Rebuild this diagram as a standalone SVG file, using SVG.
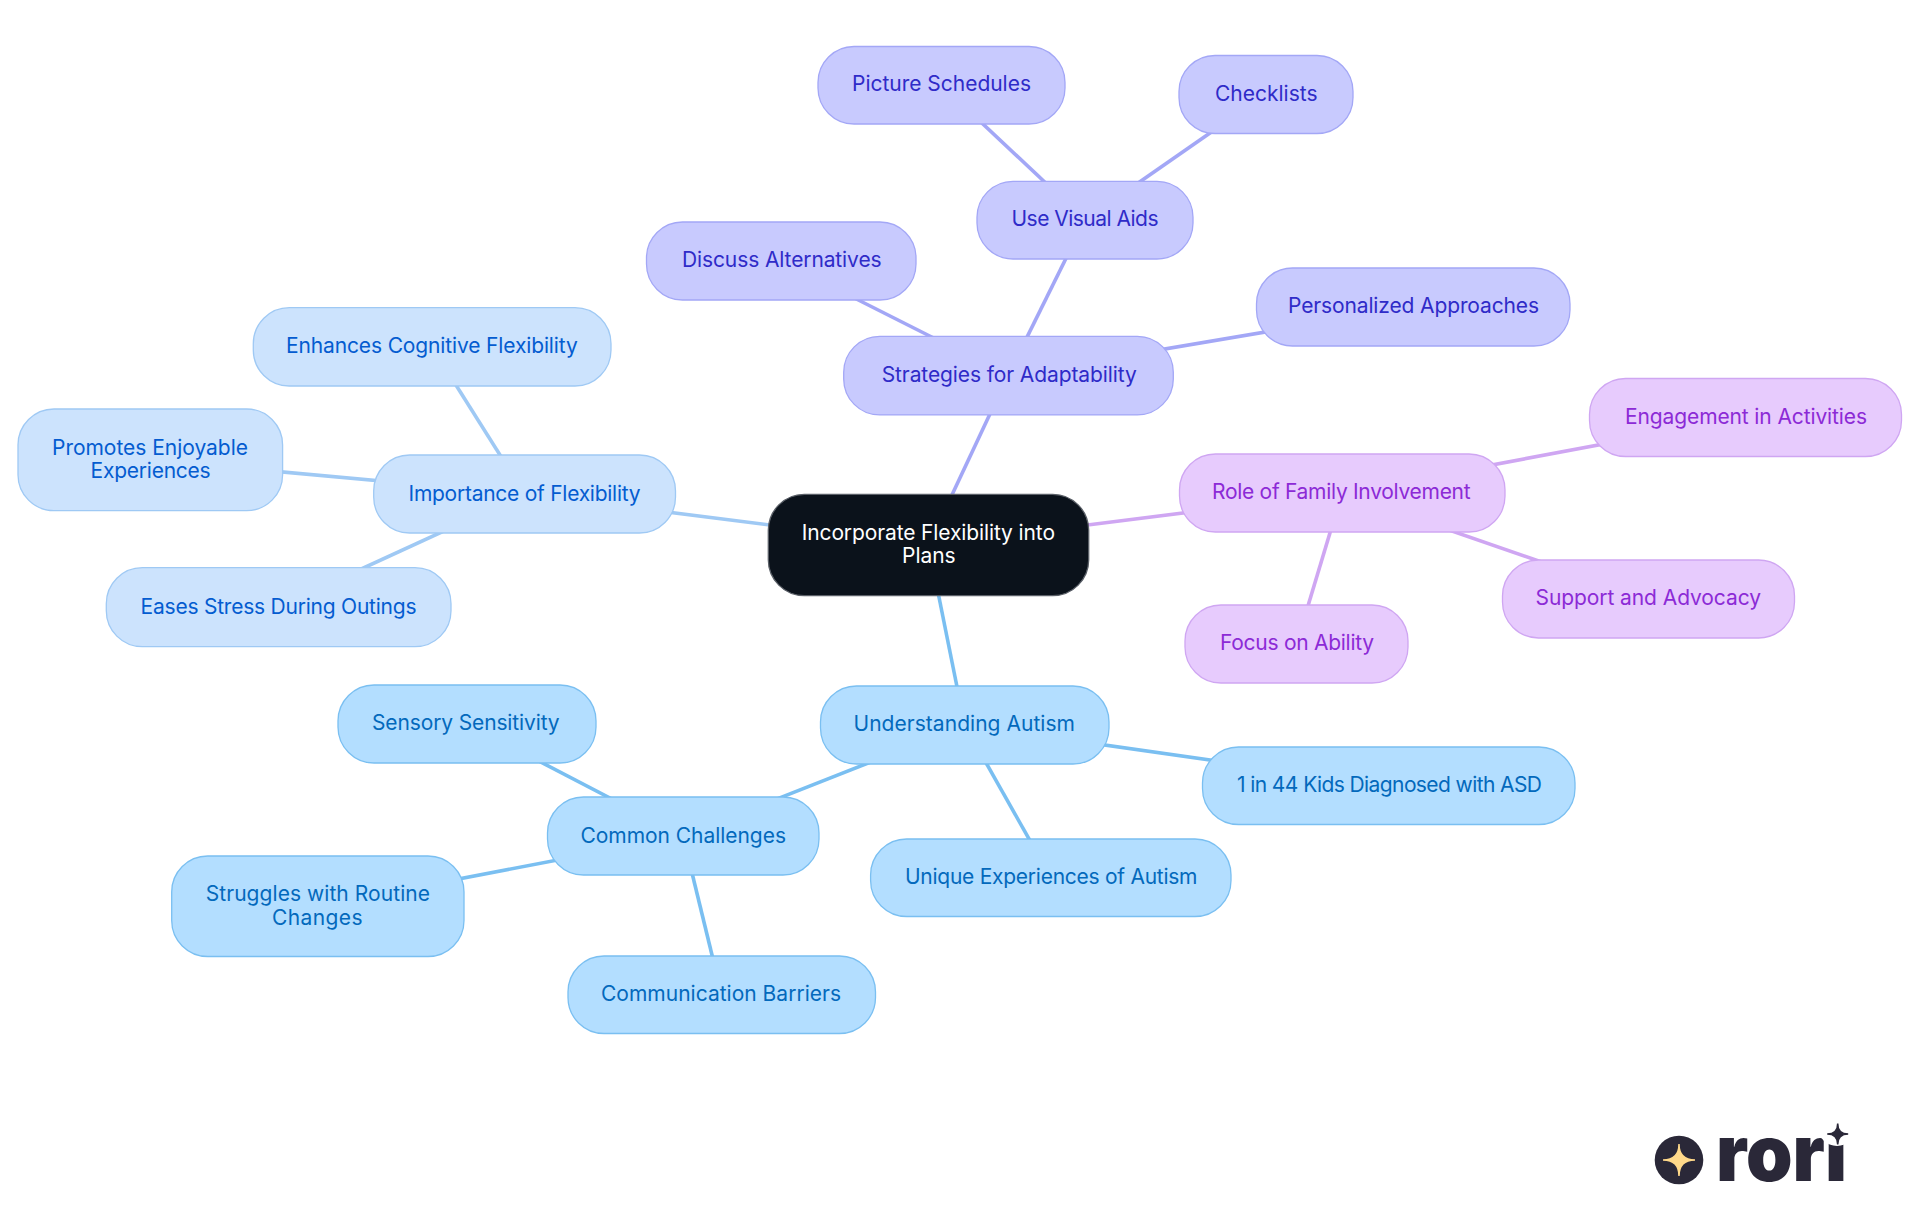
<svg xmlns="http://www.w3.org/2000/svg" width="1920" height="1215" viewBox="0 0 1920 1215">
<style>
text{font-family:"Inter","Noto Sans",sans-serif;font-size:21px;font-weight:375;}
rect{rx:36px;ry:36px;stroke-width:1.3;}
#connectors line{stroke-width:3.6;fill:none;}
.root rect{fill:#0B121B;stroke:#5B6068;}.root text{fill:#FFFFFF;}
.indigo rect{fill:#C8CAFE;stroke:#A3A7F6;}.indigo text{fill:#2F2BC8;}
.violet rect{fill:#E7CBFD;stroke:#CFA6F2;}.violet text{fill:#8C2AD6;}
.blue rect{fill:#CCE3FD;stroke:#9FC9F4;}.blue text{fill:#045CD0;}
.sky rect{fill:#B3DEFF;stroke:#7ABFF1;}.sky text{fill:#0369BC;}
.e-indigo{stroke:#A3A7F6;}.e-violet{stroke:#CFA6F2;}.e-blue{stroke:#9FC9F4;}.e-sky{stroke:#7ABFF1;}
</style>
<rect width="1920" height="1215" style="fill:#FFFFFF;stroke:none;rx:0;ry:0"/>
<g id="connectors">
<line class="e-indigo" x1="928.5" y1="545" x2="1008" y2="375.5"/>
<line class="e-violet" x1="928.5" y1="545" x2="1342" y2="493"/>
<line class="e-blue" x1="928.5" y1="545" x2="524.5" y2="494"/>
<line class="e-sky" x1="928.5" y1="545" x2="964.7" y2="725"/>
<line class="e-indigo" x1="1008" y1="375.5" x2="1085" y2="220"/>
<line class="e-indigo" x1="1008" y1="375.5" x2="781" y2="261"/>
<line class="e-indigo" x1="1008" y1="375.5" x2="1413" y2="307"/>
<line class="e-indigo" x1="1085" y1="220" x2="941.5" y2="85"/>
<line class="e-indigo" x1="1085" y1="220" x2="1266" y2="94"/>
<line class="e-violet" x1="1342" y1="493" x2="1745.5" y2="417.5"/>
<line class="e-violet" x1="1342" y1="493" x2="1648.5" y2="599"/>
<line class="e-violet" x1="1342" y1="493" x2="1296.5" y2="644"/>
<line class="e-blue" x1="524.5" y1="494" x2="432" y2="347"/>
<line class="e-blue" x1="524.5" y1="494" x2="150.3" y2="460"/>
<line class="e-blue" x1="524.5" y1="494" x2="278.5" y2="607"/>
<line class="e-sky" x1="964.7" y1="725" x2="683" y2="836"/>
<line class="e-sky" x1="964.7" y1="725" x2="1388.7" y2="785.5"/>
<line class="e-sky" x1="964.7" y1="725" x2="1050.8" y2="877.5"/>
<line class="e-sky" x1="683" y1="836" x2="467" y2="723.7"/>
<line class="e-sky" x1="683" y1="836" x2="317.7" y2="906"/>
<line class="e-sky" x1="683" y1="836" x2="721.7" y2="994.7"/>
</g>
<g id="root" class="root"><rect x="768.3" y="494.3" width="320.4" height="101.4"/><text x="801.7" y="539.5" textLength="253.3">Incorporate Flexibility into</text><text x="902" y="563" textLength="53.7">Plans</text></g>
<g id="strategies" class="indigo"><rect x="843.7" y="336.3" width="329.6" height="78.6"/><text x="881.7" y="381.5" textLength="255">Strategies for Adaptability</text></g>
<g id="visual-aids" class="indigo"><rect x="977" y="181.3" width="216" height="77.7"/><text x="1011.5" y="225.5" textLength="147">Use Visual Aids</text></g>
<g id="picture-schedules" class="indigo"><rect x="818" y="46.5" width="247" height="77.5"/><text x="852" y="90.5" textLength="179">Picture Schedules</text></g>
<g id="checklists" class="indigo"><rect x="1179" y="55.5" width="174" height="78"/><text x="1215" y="100.5" textLength="102.5">Checklists</text></g>
<g id="discuss" class="indigo"><rect x="646.5" y="222" width="269.5" height="78"/><text x="682" y="267" textLength="199.6">Discuss Alternatives</text></g>
<g id="personalized" class="indigo"><rect x="1256.5" y="268" width="313.5" height="78"/><text x="1288" y="313" textLength="251">Personalized Approaches</text></g>
<g id="family" class="violet"><rect x="1179.5" y="454" width="325.500" height="78"/><text x="1212" y="498.5" textLength="258.6">Role of Family Involvement</text></g>
<g id="engagement" class="violet"><rect x="1589.5" y="378.5" width="312" height="78"/><text x="1625" y="424" textLength="242">Engagement in Activities</text></g>
<g id="support" class="violet"><rect x="1502.5" y="560" width="292" height="78"/><text x="1535.5" y="604.5" textLength="225.5">Support and Advocacy</text></g>
<g id="focus" class="violet"><rect x="1185" y="605" width="223" height="78"/><text x="1220" y="650" textLength="154">Focus on Ability</text></g>
<g id="importance" class="blue"><rect x="373.7" y="455" width="301.8" height="78"/><text x="408.5" y="500.5" textLength="232.1">Importance of Flexibility</text></g>
<g id="enhances" class="blue"><rect x="253.3" y="307.7" width="357.7" height="78.3"/><text x="286" y="352.5" textLength="291.7">Enhances Cognitive Flexibility</text></g>
<g id="promotes" class="blue"><rect x="18" y="409" width="264.6" height="101.7"/><text x="52" y="455" textLength="196">Promotes Enjoyable</text><text x="90.6" y="478" textLength="120.1">Experiences</text></g>
<g id="eases" class="blue"><rect x="106.3" y="567.7" width="344.7" height="79"/><text x="140.6" y="613.5" textLength="275.9">Eases Stress During Outings</text></g>
<g id="understanding" class="sky"><rect x="820.5" y="686" width="288.5" height="78"/><text x="853.5" y="731" textLength="221.5">Understanding Autism</text></g>
<g id="asd" class="sky"><rect x="1202.5" y="747" width="372.5" height="77.5"/><text x="1237" y="792" textLength="305">1 in 44 Kids Diagnosed with ASD</text></g>
<g id="unique" class="sky"><rect x="870.6" y="839" width="360.4" height="77.5"/><text x="905" y="884" textLength="292.5">Unique Experiences of Autism</text></g>
<g id="challenges" class="sky"><rect x="547.5" y="797" width="271.5" height="78"/><text x="580.5" y="842.5" textLength="205.5">Common Challenges</text></g>
<g id="sensory" class="sky"><rect x="338" y="685" width="258" height="78"/><text x="372" y="730" textLength="187.6">Sensory Sensitivity</text></g>
<g id="routine" class="sky"><rect x="171.7" y="856" width="292.3" height="100.500"/><text x="205.7" y="900.5" textLength="224.3">Struggles with Routine</text><text x="272" y="924.5" textLength="90.5">Changes</text></g>
<g id="barriers" class="sky"><rect x="568" y="956" width="307.5" height="77.5"/><text x="601" y="1001" textLength="240">Communication Barriers</text></g>
<g id="logo">
<circle cx="1679" cy="1160" r="24.3" fill="#2A2838"/>
<path d="M1679 1144Q1679 1160 1695 1160Q1679 1160 1679 1176Q1679 1160 1663 1160Q1679 1160 1679 1144Z" fill="#FFD98A" stroke="#FFD98A" stroke-width="1.5"/>
<text x="1716" y="1181" textLength="131" lengthAdjust="spacingAndGlyphs" style="font-size:78px;font-weight:900;fill:#2A2838">rori</text>
<circle cx="1837" cy="1127" r="19" fill="#FFFFFF"/>
<path d="M1837.7 1123.500Q1837.700 1134 1848.200 1134Q1837.700 1134 1837.700 1144.500Q1837.700 1134 1827.200 1134Q1837.700 1134 1837.700 1123.500Z" fill="#2A2838" stroke="#2A2838" stroke-width="1.500"/>
</g>
</svg>
